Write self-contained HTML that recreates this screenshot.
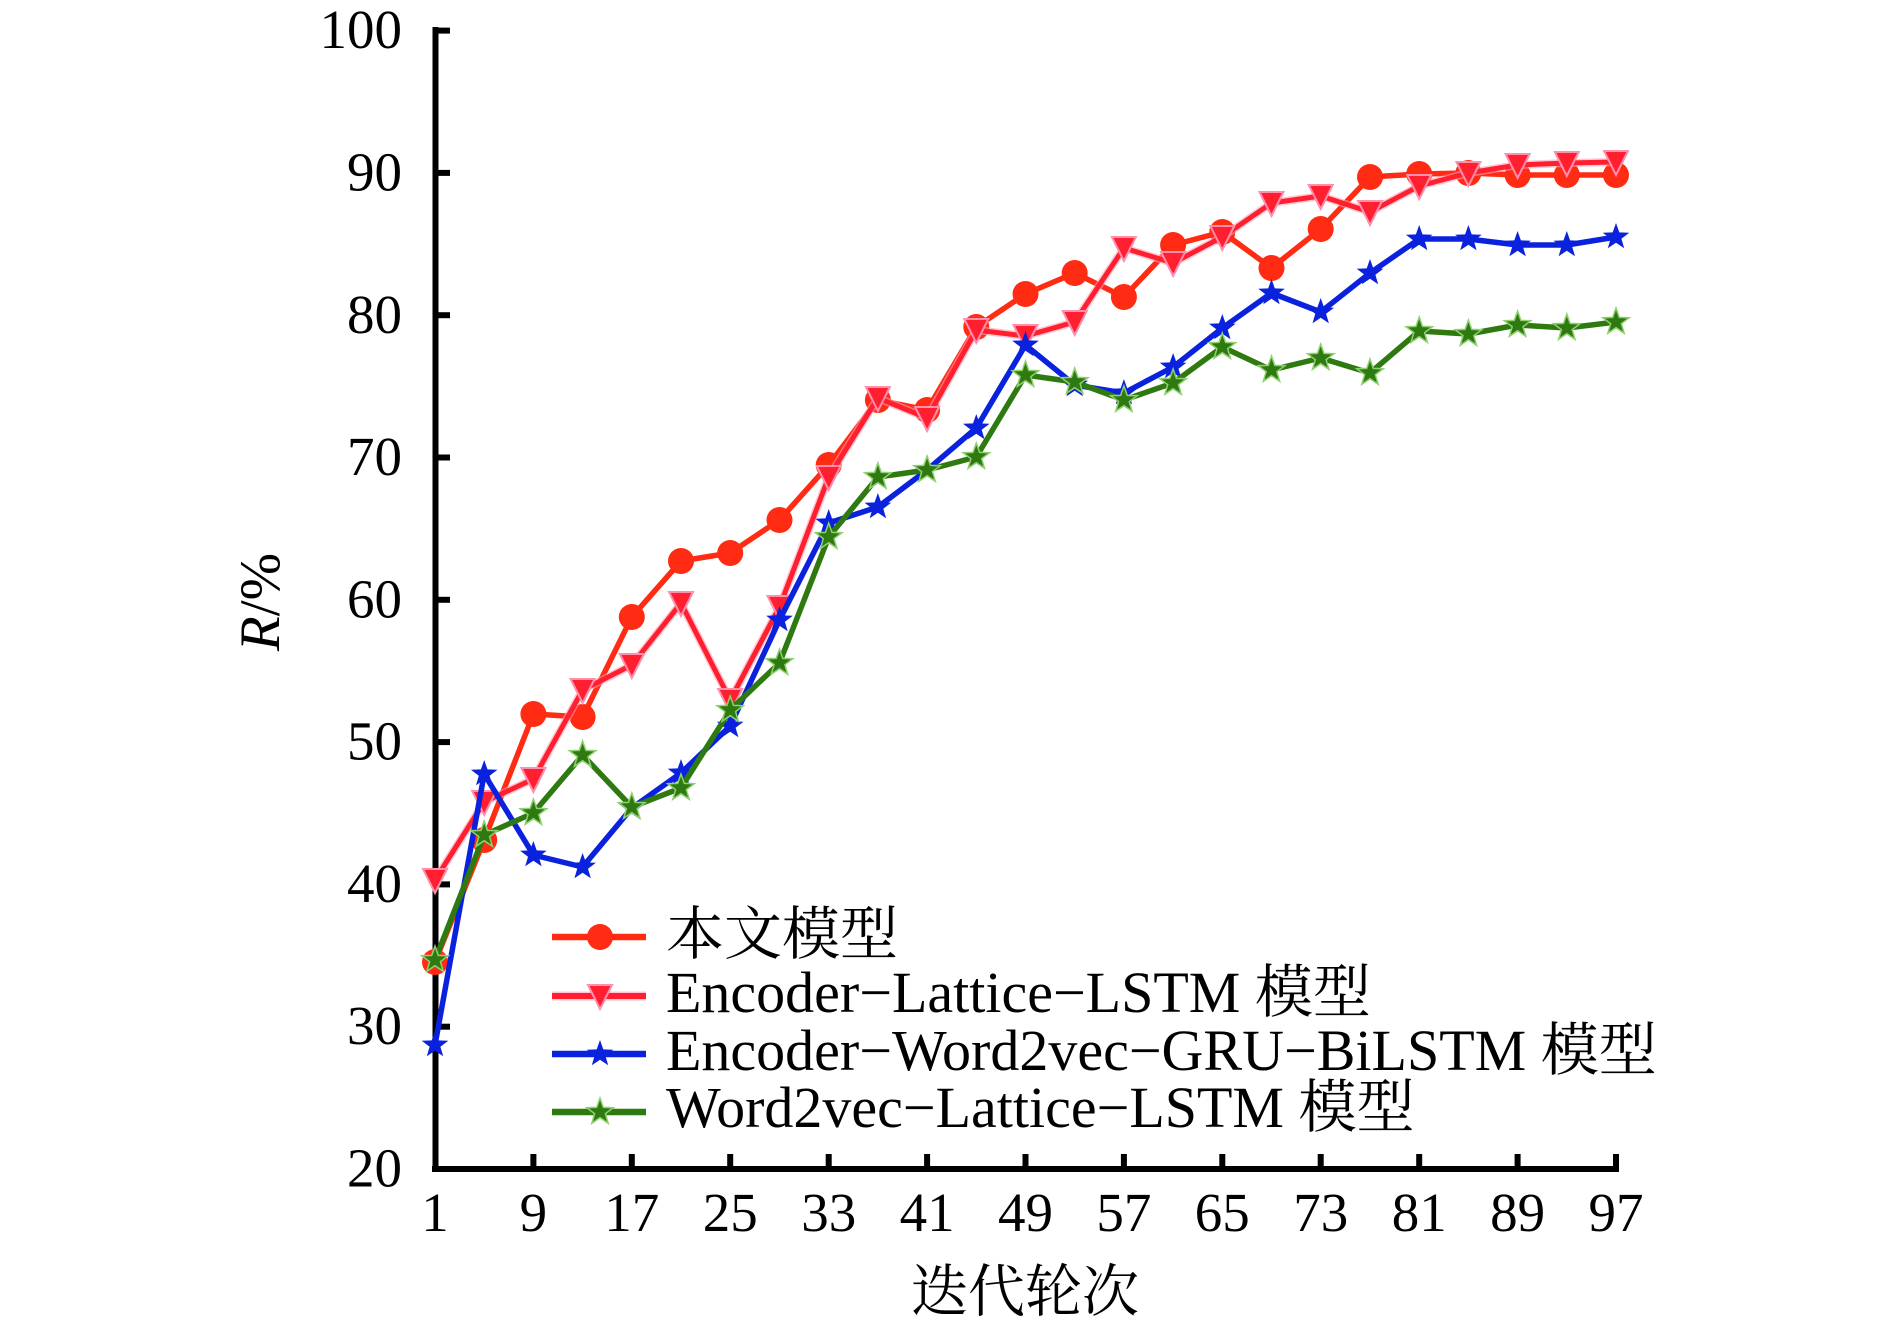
<!DOCTYPE html>
<html>
<head>
<meta charset="utf-8">
<style>
html,body{margin:0;padding:0;background:#fff;}
svg{display:block;}
text{font-family:"Liberation Serif","Noto Serif CJK SC",serif;fill:#000;}
</style>
</head>
<body>
<svg width="1890" height="1326" viewBox="0 0 1890 1326" xmlns="http://www.w3.org/2000/svg">
<defs>
  <circle id="mc" cx="0" cy="0" r="13" fill="#ff2b12"/>
  <polygon id="mt" points="-12,-11 12,-11 0,13" fill="#ff1f2f" stroke="#ff8fae" stroke-width="2"/>
  <polygon id="msb" points="0,-14 3.3,-4.6 13.3,-4.3 5.4,1.7 8.2,11.3 0,5.7 -8.2,11.3 -5.4,1.7 -13.3,-4.3 -3.3,-4.6" fill="#0a22dd"/>
  <polygon id="msg" points="0,-14 3.3,-4.6 13.3,-4.3 5.4,1.7 8.2,11.3 0,5.7 -8.2,11.3 -5.4,1.7 -13.3,-4.3 -3.3,-4.6" fill="#2f7a10" stroke="#8fd070" stroke-width="1.5"/>
</defs>

<!-- axes -->
<line x1="435.5" y1="27" x2="435.5" y2="1172" stroke="#000" stroke-width="6"/>
<line x1="432" y1="1169" x2="1619" y2="1169" stroke="#000" stroke-width="6"/>
<!-- y ticks -->
<g stroke="#000" stroke-width="6">
  <line x1="435" y1="30.6" x2="450" y2="30.6"/>
  <line x1="435" y1="172.9" x2="450" y2="172.9"/>
  <line x1="435" y1="315.2" x2="450" y2="315.2"/>
  <line x1="435" y1="457.5" x2="450" y2="457.5"/>
  <line x1="435" y1="599.8" x2="450" y2="599.8"/>
  <line x1="435" y1="742.1" x2="450" y2="742.1"/>
  <line x1="435" y1="884.4" x2="450" y2="884.4"/>
  <line x1="435" y1="1026.7" x2="450" y2="1026.7"/>
</g>
<!-- x ticks -->
<g stroke="#000" stroke-width="6">
  <line x1="533.4" y1="1169" x2="533.4" y2="1154"/>
  <line x1="631.8" y1="1169" x2="631.8" y2="1154"/>
  <line x1="730.2" y1="1169" x2="730.2" y2="1154"/>
  <line x1="828.7" y1="1169" x2="828.7" y2="1154"/>
  <line x1="927.1" y1="1169" x2="927.1" y2="1154"/>
  <line x1="1025.5" y1="1169" x2="1025.5" y2="1154"/>
  <line x1="1123.9" y1="1169" x2="1123.9" y2="1154"/>
  <line x1="1222.3" y1="1169" x2="1222.3" y2="1154"/>
  <line x1="1320.7" y1="1169" x2="1320.7" y2="1154"/>
  <line x1="1419.2" y1="1169" x2="1419.2" y2="1154"/>
  <line x1="1517.6" y1="1169" x2="1517.6" y2="1154"/>
  <line x1="1616" y1="1169" x2="1616" y2="1154"/>
</g>

<!-- y tick labels -->
<g font-size="55" text-anchor="end">
  <text x="402" y="48">100</text>
  <text x="402" y="190.5">90</text>
  <text x="402" y="332.8">80</text>
  <text x="402" y="475">70</text>
  <text x="402" y="617.3">60</text>
  <text x="402" y="759.6">50</text>
  <text x="402" y="902">40</text>
  <text x="402" y="1044.2">30</text>
  <text x="402" y="1186.5">20</text>
</g>
<!-- x tick labels -->
<g font-size="55" text-anchor="middle">
  <text x="435" y="1231">1</text>
  <text x="533.4" y="1231">9</text>
  <text x="631.8" y="1231">17</text>
  <text x="730.2" y="1231">25</text>
  <text x="828.7" y="1231">33</text>
  <text x="927.1" y="1231">41</text>
  <text x="1025.5" y="1231">49</text>
  <text x="1123.9" y="1231">57</text>
  <text x="1222.3" y="1231">65</text>
  <text x="1320.7" y="1231">73</text>
  <text x="1419.2" y="1231">81</text>
  <text x="1517.6" y="1231">89</text>
  <text x="1616" y="1231">97</text>
</g>

<!-- axis titles -->
<text x="1025" y="1311" font-size="57" text-anchor="middle" style="font-family:'Noto Serif CJK SC','Liberation Serif',serif;">迭代轮次</text>
<text x="279" y="602" font-size="57" text-anchor="middle" transform="rotate(-90 279 602)"><tspan font-style="italic">R</tspan>/%</text>

<!-- series: 本文模型 (circles) -->
<polyline fill="none" stroke="#ff2b12" stroke-width="5.5" stroke-linejoin="round"
 points="435,962 484.2,840 533.4,714 582.6,717 631.8,617 681,561 730.2,553 779.5,520 828.7,465 877.9,400 927.1,410 976.3,327 1025.5,294 1074.7,273 1123.9,297 1173.1,245 1222.3,232 1271.5,268 1320.7,229 1370,177 1419.2,174 1468.4,173 1517.6,175 1566.8,175 1616,175"/>
<g>
<use href="#mc" x="435" y="962"/><use href="#mc" x="484.2" y="840"/><use href="#mc" x="533.4" y="714"/><use href="#mc" x="582.6" y="717"/><use href="#mc" x="631.8" y="617"/><use href="#mc" x="681" y="561"/><use href="#mc" x="730.2" y="553"/><use href="#mc" x="779.5" y="520"/><use href="#mc" x="828.7" y="465"/><use href="#mc" x="877.9" y="400"/><use href="#mc" x="927.1" y="410"/><use href="#mc" x="976.3" y="327"/><use href="#mc" x="1025.5" y="294"/><use href="#mc" x="1074.7" y="273"/><use href="#mc" x="1123.9" y="297"/><use href="#mc" x="1173.1" y="245"/><use href="#mc" x="1222.3" y="232"/><use href="#mc" x="1271.5" y="268"/><use href="#mc" x="1320.7" y="229"/><use href="#mc" x="1370" y="177"/><use href="#mc" x="1419.2" y="174"/><use href="#mc" x="1468.4" y="173"/><use href="#mc" x="1517.6" y="175"/><use href="#mc" x="1566.8" y="175"/><use href="#mc" x="1616" y="175"/>
</g>

<!-- series: Encoder-Lattice-LSTM (triangles) -->
<polyline fill="none" stroke="#ffa0b8" stroke-width="8" stroke-linejoin="round" opacity="0.6"
 points="435,880 484.2,802 533.4,779 582.6,690 631.8,665 681,603 730.2,700 779.5,607 828.7,477 877.9,398 927.1,418 976.3,330 1025.5,336 1074.7,322 1123.9,248 1173.1,263 1222.3,237 1271.5,203 1320.7,196 1370,212 1419.2,186 1468.4,173 1517.6,165 1566.8,163 1616,162"/>
<polyline fill="none" stroke="#ff1f2f" stroke-width="5" stroke-linejoin="round"
 points="435,880 484.2,802 533.4,779 582.6,690 631.8,665 681,603 730.2,700 779.5,607 828.7,477 877.9,398 927.1,418 976.3,330 1025.5,336 1074.7,322 1123.9,248 1173.1,263 1222.3,237 1271.5,203 1320.7,196 1370,212 1419.2,186 1468.4,173 1517.6,165 1566.8,163 1616,162"/>
<g>
<use href="#mt" x="435" y="880"/><use href="#mt" x="484.2" y="802"/><use href="#mt" x="533.4" y="779"/><use href="#mt" x="582.6" y="690"/><use href="#mt" x="631.8" y="665"/><use href="#mt" x="681" y="603"/><use href="#mt" x="730.2" y="700"/><use href="#mt" x="779.5" y="607"/><use href="#mt" x="828.7" y="477"/><use href="#mt" x="877.9" y="398"/><use href="#mt" x="927.1" y="418"/><use href="#mt" x="976.3" y="330"/><use href="#mt" x="1025.5" y="336"/><use href="#mt" x="1074.7" y="322"/><use href="#mt" x="1123.9" y="248"/><use href="#mt" x="1173.1" y="263"/><use href="#mt" x="1222.3" y="237"/><use href="#mt" x="1271.5" y="203"/><use href="#mt" x="1320.7" y="196"/><use href="#mt" x="1370" y="212"/><use href="#mt" x="1419.2" y="186"/><use href="#mt" x="1468.4" y="173"/><use href="#mt" x="1517.6" y="165"/><use href="#mt" x="1566.8" y="163"/><use href="#mt" x="1616" y="162"/>
</g>

<!-- series: Encoder-Word2vec-GRU-BiLSTM (blue stars) -->
<polyline fill="none" stroke="#0a22dd" stroke-width="5.5" stroke-linejoin="round"
 points="435,1045 484.2,774 533.4,855 582.6,867 631.8,808 681,773 730.2,726 779.5,620 828.7,523 877.9,507 927.1,470 976.3,428 1025.5,345 1074.7,385 1123.9,393 1173.1,367 1222.3,328 1271.5,293 1320.7,312 1370,273 1419.2,239 1468.4,239 1517.6,245 1566.8,245 1616,237"/>
<g>
<use href="#msb" x="435" y="1045"/><use href="#msb" x="484.2" y="774"/><use href="#msb" x="533.4" y="855"/><use href="#msb" x="582.6" y="867"/><use href="#msb" x="631.8" y="808"/><use href="#msb" x="681" y="773"/><use href="#msb" x="730.2" y="726"/><use href="#msb" x="779.5" y="620"/><use href="#msb" x="828.7" y="523"/><use href="#msb" x="877.9" y="507"/><use href="#msb" x="927.1" y="470"/><use href="#msb" x="976.3" y="428"/><use href="#msb" x="1025.5" y="345"/><use href="#msb" x="1074.7" y="385"/><use href="#msb" x="1123.9" y="393"/><use href="#msb" x="1173.1" y="367"/><use href="#msb" x="1222.3" y="328"/><use href="#msb" x="1271.5" y="293"/><use href="#msb" x="1320.7" y="312"/><use href="#msb" x="1370" y="273"/><use href="#msb" x="1419.2" y="239"/><use href="#msb" x="1468.4" y="239"/><use href="#msb" x="1517.6" y="245"/><use href="#msb" x="1566.8" y="245"/><use href="#msb" x="1616" y="237"/>
</g>

<!-- series: Word2vec-Lattice-LSTM (green stars) -->
<polyline fill="none" stroke="#2f7a10" stroke-width="5.5" stroke-linejoin="round"
 points="435,960 484.2,835 533.4,813 582.6,755 631.8,807 681,788 730.2,710 779.5,663 828.7,537 877.9,477 927.1,470 976.3,457 1025.5,375 1074.7,382 1123.9,400 1173.1,383 1222.3,347 1271.5,370 1320.7,358 1370,373 1419.2,331 1468.4,334 1517.6,325 1566.8,328 1616,322"/>
<g>
<use href="#msg" x="435" y="960"/><use href="#msg" x="484.2" y="835"/><use href="#msg" x="533.4" y="813"/><use href="#msg" x="582.6" y="755"/><use href="#msg" x="631.8" y="807"/><use href="#msg" x="681" y="788"/><use href="#msg" x="730.2" y="710"/><use href="#msg" x="779.5" y="663"/><use href="#msg" x="828.7" y="537"/><use href="#msg" x="877.9" y="477"/><use href="#msg" x="927.1" y="470"/><use href="#msg" x="976.3" y="457"/><use href="#msg" x="1025.5" y="375"/><use href="#msg" x="1074.7" y="382"/><use href="#msg" x="1123.9" y="400"/><use href="#msg" x="1173.1" y="383"/><use href="#msg" x="1222.3" y="347"/><use href="#msg" x="1271.5" y="370"/><use href="#msg" x="1320.7" y="358"/><use href="#msg" x="1370" y="373"/><use href="#msg" x="1419.2" y="331"/><use href="#msg" x="1468.4" y="334"/><use href="#msg" x="1517.6" y="325"/><use href="#msg" x="1566.8" y="328"/><use href="#msg" x="1616" y="322"/>
</g>

<!-- legend -->
<line x1="552" y1="937" x2="646" y2="937" stroke="#ff2b12" stroke-width="6.5"/>
<use href="#mc" x="600" y="937"/>
<line x1="552" y1="996" x2="646" y2="996" stroke="#ffa0b8" stroke-width="9" opacity="0.6"/>
<line x1="552" y1="996" x2="646" y2="996" stroke="#ff1f2f" stroke-width="6"/>
<use href="#mt" x="600" y="996"/>
<line x1="552" y1="1054" x2="646" y2="1054" stroke="#0a22dd" stroke-width="6.5"/>
<use href="#msb" x="600" y="1054"/>
<line x1="552" y1="1112" x2="646" y2="1112" stroke="#2f7a10" stroke-width="6.5"/>
<use href="#msg" x="600" y="1112"/>

<g font-size="58">
  <text x="666" y="954">本文模型</text>
  <text x="666" y="1012">Encoder−Lattice−LSTM 模型</text>
  <text x="666" y="1070">Encoder−Word2vec−GRU−BiLSTM 模型</text>
  <text x="666" y="1127">Word2vec−Lattice−LSTM 模型</text>
</g>
</svg>
</body>
</html>
